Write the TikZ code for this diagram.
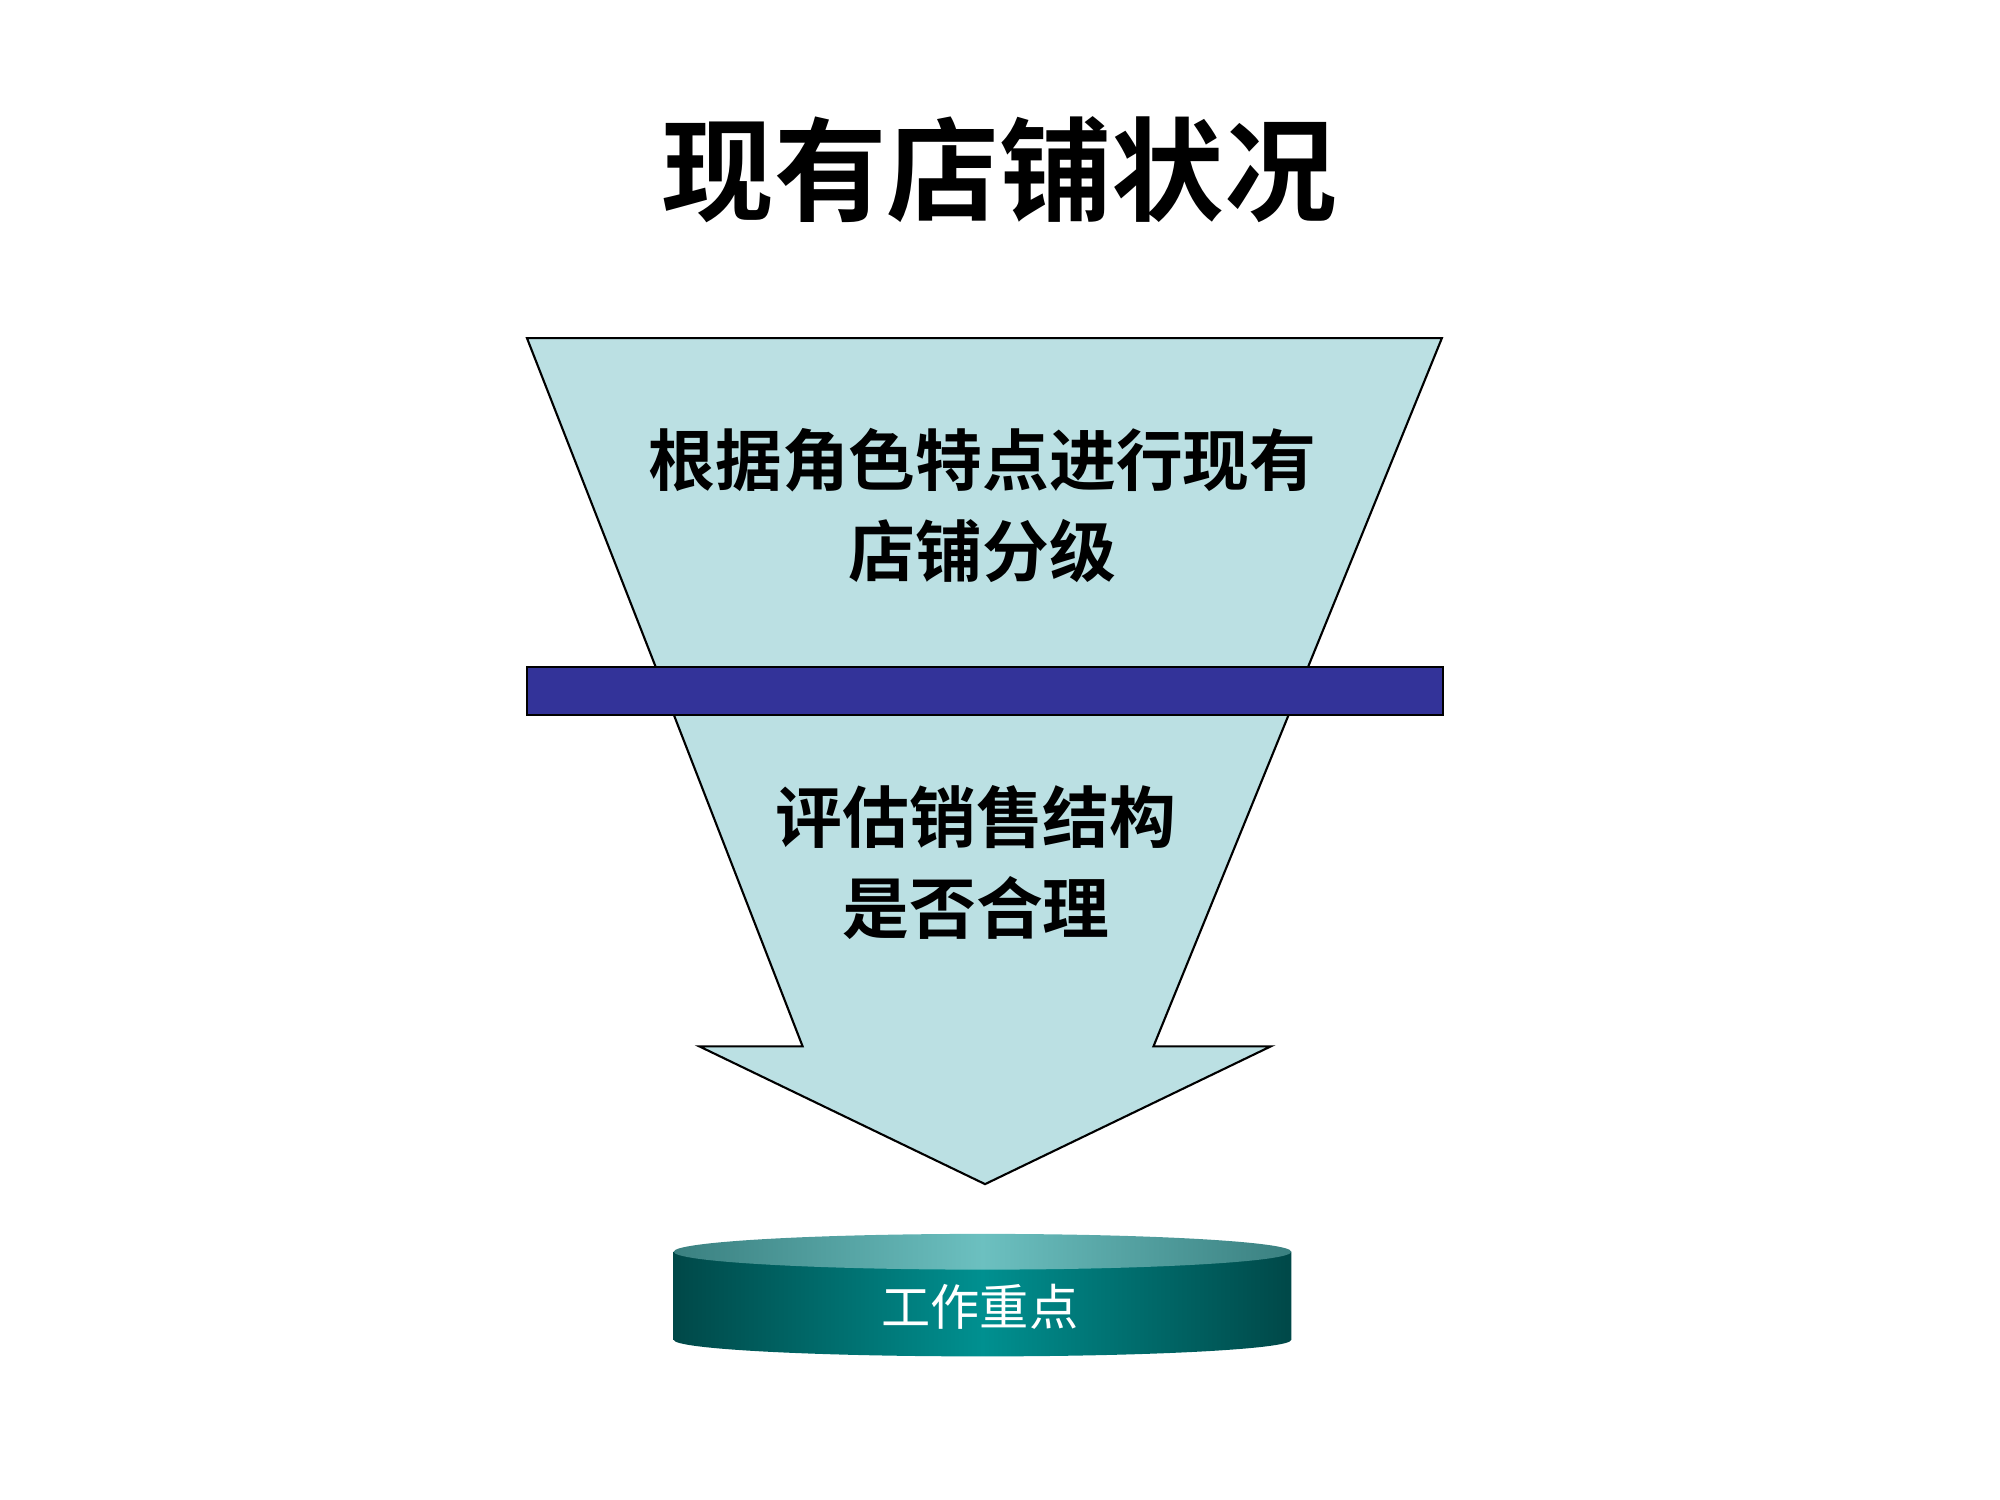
\documentclass[tikz,border=0pt]{standalone}
\usepackage{fontspec}
\newfontfamily\cjk{Noto Sans CJK SC}[BoldFont={Noto Sans CJK SC Bold}]
\begin{document}
\begin{tikzpicture}[x=0.01276cm,y=-0.01276cm,
  funnel/.style={fill=funblue,draw=black,line width=0.6pt},
  lbl/.style={font=\cjk\bfseries\fontsize{19}{26}\selectfont,align=center}]
\definecolor{funblue}{HTML}{BBE0E3}
\definecolor{barblue}{HTML}{333399}
\definecolor{tealdark}{HTML}{004848}
\definecolor{tealmid}{HTML}{009090}
\definecolor{teallight}{HTML}{6CC0C0}
\definecolor{tealtopd}{HTML}{3A8080}
\useasboundingbox (0,0) rectangle (1567.4,1175.5);
\node[font=\cjk\bfseries\fontsize{32}{38}\selectfont] (title) at (783,133) {现有店铺状况};
\draw[funnel] (413,265) -- (1130,265) -- (1025,523) -- (514,523) -- cycle;
\draw[funnel] (528,560) -- (1010,560) -- (904,820) -- (996,820) -- (772,928) -- (548,820) -- (629,820) -- cycle;
\draw[fill=barblue,draw=black,line width=0.6pt] (413,523) rectangle (1131,560);
\node[lbl] (t1) at (770,396) {根据角色特点进行现有\\店铺分级};
\node[lbl] (t2) at (765,676) {评估销售结构\\是否合理};
% cylinder
\shade[left color=tealdark,right color=tealdark,middle color=tealmid]
  (528,981) -- (528,1050) arc[start angle=180,end angle=0,x radius=242,y radius=13] -- (1012,981) -- cycle;
\shade[left color=tealtopd,right color=tealtopd,middle color=teallight]
  (770,981) ellipse[x radius=242,y radius=14];
\node[font=\cjk\fontsize{14}{16}\selectfont,text=white] (t3) at (768,1024) {工作重点};
\end{tikzpicture}
\end{document}
